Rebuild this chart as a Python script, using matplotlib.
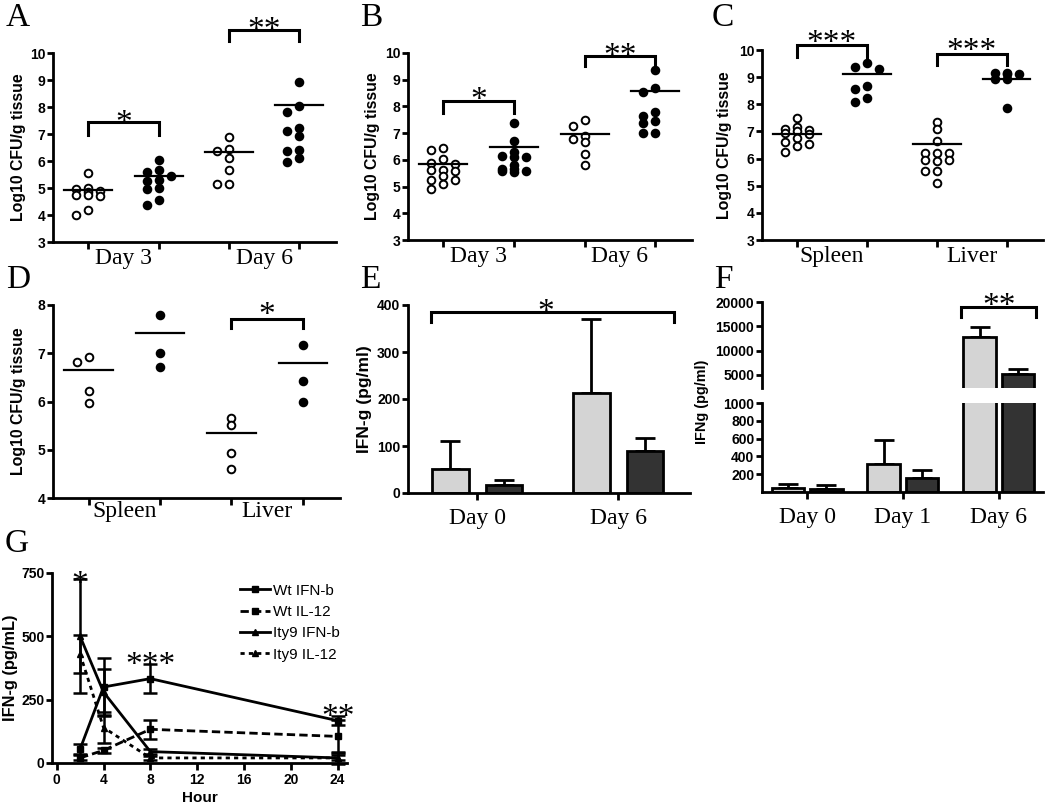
import numpy as np
import matplotlib.pyplot as plt
import matplotlib.transforms as mtransforms
from matplotlib.lines import Line2D

W, H = 1050, 809
SANS = "Liberation Sans"
SERIF = "Liberation Serif"

plt.rcParams["font.family"] = SANS
plt.rcParams["font.weight"] = "bold"

# ---- data ----
# A: log10 CFU/g, open = first group, filled = second group
a_cats = ["Day 3", "Day 6"]
a_open_d3 = [5.57, 5.0, 4.95, 4.9, 4.85, 4.75, 4.7, 4.75, 4.2, 4.0]
a_fill_d3 = [6.05, 5.65, 5.58, 5.45, 5.3, 5.25, 5.0, 4.95, 4.55, 4.38]
a_open_d6 = [6.89, 6.44, 6.36, 6.11, 5.65, 5.15, 5.15]
a_fill_d6 = [8.91, 8.02, 7.81, 7.22, 7.1, 6.91, 6.42, 6.36, 6.11, 5.95]
a_means = [4.93, 5.45, 6.32, 8.06]

b_cats = ["Day 3", "Day 6"]
b_open_d3 = [6.46, 6.38, 6.02, 5.88, 5.84, 5.63, 5.63, 5.6, 5.38, 5.25, 5.25, 5.09, 4.9]
b_fill_d3 = [7.38, 6.69, 6.31, 6.15, 6.1, 6.1, 5.8, 5.65, 5.6, 5.55, 5.6, 5.65]
b_open_d6 = [7.48, 7.28, 6.9, 6.78, 6.65, 6.23, 5.79]
b_fill_d6 = [9.38, 8.69, 8.54, 7.78, 7.65, 7.46, 7.38, 7.0, 7.0]
b_means = [5.84, 6.48, 6.98, 8.56]

c_cats = ["Spleen", "Liver"]
c_open_sp = [7.5, 7.15, 7.1, 7.05, 7.0, 6.95, 6.9, 6.75, 6.6, 6.55, 6.45, 6.25]
c_fill_sp = [9.51, 9.38, 9.3, 8.67, 8.58, 8.25, 8.09]
c_open_lv = [7.35, 7.1, 6.65, 6.2, 6.2, 6.2, 5.9, 5.95, 5.95, 5.55, 5.55, 5.1]
c_fill_lv = [9.15, 9.15, 9.1, 9.1, 8.95, 8.95, 7.85]
c_means = [6.92, 9.1, 6.55, 8.95]

d_cats = ["Spleen", "Liver"]
d_open_sp = [6.93, 6.82, 6.22, 5.96]
d_fill_sp = [7.79, 7.01, 6.72]
d_open_lv = [5.66, 5.51, 4.93, 4.6]
d_fill_lv = [7.17, 6.42, 5.98]
d_means = [6.65, 7.43, 5.35, 6.79]

# E: IFN-g (pg/ml), light and dark bars
e_days = ["Day 0", "Day 6"]
e_light = [51, 212]
e_light_err = [60, 158]
e_dark = [18, 89]
e_dark_err = [9, 27]

# F: IFNg (pg/ml), broken axis
f_days = ["Day 0", "Day 1", "Day 6"]
f_light = [49, 320, 12800]
f_light_err = [45, 265, 2050]
f_dark = [38, 162, 5185]
f_dark_err = [37, 83, 1000]

# G: IFN-g time course
g_hours = [2, 4, 8, 24]
g_wt_ifnb = [55, 300, 333, 167]
g_wt_ifnb_err = [20, 115, 58, 18]
g_wt_il12 = [20, 50, 133, 105]
g_wt_il12_err = [10, 10, 38, 65]
g_ity_ifnb = [500, 280, 45, 20]
g_ity_ifnb_err = [225, 90, 10, 25]
g_ity_il12 = [430, 140, 20, 20]
g_ity_il12_err = [75, 60, 8, 10]

fig = plt.figure(figsize=(W / 100, H / 100), dpi=100)


def px_axes(x0, y0, x1, y1):
    return fig.add_axes([x0 / W, 1 - y1 / H, (x1 - x0) / W, (y1 - y0) / H])


def style(ax):
    for s in ["top", "right"]:
        ax.spines[s].set_visible(False)
    for s in ["left", "bottom"]:
        ax.spines[s].set_linewidth(2)
    ax.tick_params(width=2, length=4, labelsize=10, pad=1.5)


def ylabel_at(ax, text, x_right, size=11.4):
    ax.set_ylabel(text, fontsize=size, fontweight="bold")
    tr = mtransforms.blended_transform_factory(fig.transFigure, ax.transAxes)
    ax.yaxis.set_label_coords(x_right / W, 0.5, transform=tr)


def stars(ax, x, y, n, fs=24):
    ax.annotate("*" * n, (x, y), xytext=(0, -0.55 * fs), textcoords="offset points",
                ha="center", va="baseline", fontsize=fs, family=SERIF,
                fontweight="normal", annotation_clip=False)


def bracket(ax, x0, x1, ytop, ybot):
    ax.plot([x0, x0, x1, x1], [ybot, ytop, ytop, ybot], color="black", lw=2.2,
            clip_on=False, solid_joinstyle="miter")


def swarm(vals, dy, dx):
    # spread points of similar value over up to three columns
    placed = []
    offs = []
    for v in vals:
        best, best_gap = 0, -1
        for c in [0, -1, 1]:
            gaps = [abs(v - pv) for pv, pc in placed if pc == c]
            gap = min(gaps) if gaps else 99
            if gap >= dy:
                best = c
                break
            if gap > best_gap:
                best, best_gap = c, gap
        placed.append((v, best))
        offs.append(best * dx)
    return np.array(offs)


def scatter_panel(ax, groups, means, cats, dy, ylim):
    for i, vals in enumerate(groups):
        offs = swarm(vals, dy, 0.17)
        filled = i % 2 == 1
        ax.plot(i + offs, vals, "o", ms=5.5, mfc="black" if filled else "white",
                mec="black", mew=1.4, ls="none", clip_on=False)
        ax.plot([i - 0.34, i + 0.34], [means[i], means[i]], color="black", lw=1.6)
    style(ax)
    ax.set_xlim(-0.5, 3.52)
    ax.set_ylim(*ylim)
    ax.set_yticks(np.arange(ylim[0], ylim[1] + 1))
    ax.set_xticks([0, 1, 2, 3])
    ax.tick_params(axis="x", which="major", labelbottom=False, length=5)
    ax.set_xticks([0.5, 2.5], labels=cats, minor=True)
    ax.tick_params(axis="x", which="minor", length=0, pad=4, labelsize=17)
    for lbl in ax.get_xticklabels(minor=True):
        lbl.set_family(SERIF)
        lbl.set_fontweight("normal")


def panel_letter(x, y, s):
    fig.text(x / W, 1 - y / H, s, family=SERIF, fontsize=24, fontweight="normal",
             ha="left", va="top")


# ---- A ----
axA = px_axes(53, 53, 336, 242)
scatter_panel(axA, [a_open_d3, a_fill_d3, a_open_d6, a_fill_d6], a_means, a_cats, 0.22, (3, 10))
ylabel_at(axA, "Log10 CFU/g tissue", 26)
bracket(axA, 0, 1, 7.43, 6.98)
stars(axA, 0.5, 7.75, 1)
bracket(axA, 2, 3, 10.86, 10.43)
stars(axA, 2.5, 11.2, 2)
panel_letter(6, 2, "A")

# ---- B ----
axB = px_axes(408, 53, 692, 240)
scatter_panel(axB, [b_open_d3, b_fill_d3, b_open_d6, b_fill_d6], b_means, b_cats, 0.22, (3, 10))
ylabel_at(axB, "Log10 CFU/g tissue", 380)
bracket(axB, 0, 1, 8.19, 7.75)
stars(axB, 0.5, 8.6, 1)
bracket(axB, 2, 3, 9.88, 9.5)
stars(axB, 2.5, 10.25, 2)
panel_letter(360, 2, "B")

# ---- C ----
axC = px_axes(762, 50, 1043, 240)
scatter_panel(axC, [c_open_sp, c_fill_sp, c_open_lv, c_fill_lv], c_means, c_cats, 0.22, (3, 10))
ylabel_at(axC, "Log10 CFU/g tissue", 732)
bracket(axC, 0, 1, 10.18, 9.75)
stars(axC, 0.5, 10.6, 3)
bracket(axC, 2, 3, 9.85, 9.45)
stars(axC, 2.5, 10.3, 3)
panel_letter(712, 2, "C")

# ---- D ----
axD = px_axes(53, 305, 340, 498)
scatter_panel(axD, [d_open_sp, d_fill_sp, d_open_lv, d_fill_lv], d_means, d_cats, 0.15, (4, 8))
axD.tick_params(axis="x", which="minor", pad=2)
ylabel_at(axD, "Log10 CFU/g tissue", 26)
bracket(axD, 2, 3, 7.72, 7.52)
stars(axD, 2.5, 7.98, 1)
panel_letter(6, 264, "D")

# ---- E ----
axE = px_axes(408, 305, 690, 493)
xe = np.arange(len(e_days))
bw = 0.26
axE.bar(xe - 0.19, e_light, bw, color="#d4d4d4", edgecolor="black", lw=2, zorder=2)
axE.bar(xe + 0.19, e_dark, bw, color="#333333", edgecolor="black", lw=2, zorder=2)
axE.errorbar(xe - 0.19, e_light, yerr=[np.zeros(2), e_light_err], fmt="none",
             ecolor="black", elinewidth=2, capsize=7, capthick=2, zorder=1)
axE.errorbar(xe + 0.19, e_dark, yerr=[np.zeros(2), e_dark_err], fmt="none",
             ecolor="black", elinewidth=2, capsize=7, capthick=2, zorder=1)
style(axE)
axE.set_xlim(-0.49, 1.51)
axE.set_ylim(0, 400)
axE.set_yticks([0, 100, 200, 300, 400])
axE.set_xticks(xe, labels=e_days)
axE.tick_params(axis="x", length=5, pad=6, labelsize=17)
for lbl in axE.get_xticklabels():
    lbl.set_family(SERIF)
    lbl.set_fontweight("normal")
ylabel_at(axE, "IFN-g (pg/ml)", 372, size=12.5)
bracket(axE, -0.33, 1.40, 385, 363)
stars(axE, 0.49, 406, 1)
panel_letter(360, 264, "E")

# ---- F (broken axis) ----
axFt = px_axes(762, 302, 1043, 388)
axFb = px_axes(762, 403, 1043, 492)
xf = np.arange(len(f_days))
bw = 0.34
for ax in (axFt, axFb):
    ax.bar(xf - 0.2, f_light, bw, color="#d4d4d4", edgecolor="black", lw=2, zorder=2)
    ax.bar(xf + 0.2, f_dark, bw, color="#333333", edgecolor="black", lw=2, zorder=2)
    ax.errorbar(xf - 0.2, f_light, yerr=[np.zeros(3), f_light_err], fmt="none",
                ecolor="black", elinewidth=2, capsize=7, capthick=2, zorder=1)
    ax.errorbar(xf + 0.2, f_dark, yerr=[np.zeros(3), f_dark_err], fmt="none",
                ecolor="black", elinewidth=2, capsize=7, capthick=2, zorder=1)
    style(ax)
    ax.set_xlim(-0.47, 2.46)
axFt.set_ylim(2275, 20000)
axFt.set_yticks([5000, 10000, 15000, 20000])
axFt.spines["bottom"].set_visible(False)
axFt.tick_params(axis="x", bottom=False, labelbottom=False)
axFb.set_ylim(0, 1000)
axFb.set_yticks([200, 400, 600, 800, 1000])
axFb.set_xticks(xf, labels=f_days)
axFb.tick_params(axis="x", length=5, pad=6, labelsize=17)
for lbl in axFb.get_xticklabels():
    lbl.set_family(SERIF)
    lbl.set_fontweight("normal")
fig.text(709 / W, 1 - 402 / H, "IFNg (pg/ml)", rotation=90, ha="right", va="center",
         fontsize=10.4, fontweight="bold")
bracket(axFt, 1.61, 2.39, 19000, 16900)
stars(axFt, 2.0, 21000, 2)
panel_letter(714, 264, "F")

# ---- G ----
axG = px_axes(52, 573, 347, 763)
series = [
    (g_wt_ifnb, g_wt_ifnb_err, "s", "-", "Wt IFN-b"),
    (g_wt_il12, g_wt_il12_err, "s", (0, (3, 1.5)), "Wt IL-12"),
    (g_ity_ifnb, g_ity_ifnb_err, "^", "-", "Ity9 IFN-b"),
    (g_ity_il12, g_ity_il12_err, "^", (0, (1.5, 1.5)), "Ity9 IL-12"),
]
handles = []
for vals, err, mk, ls, lab in series:
    axG.errorbar(g_hours, vals, yerr=err, marker=mk, ms=5, ls=ls, lw=2,
                 color="black", ecolor="black", elinewidth=1.8, capsize=5,
                 capthick=1.8, clip_on=False)
    handles.append(Line2D([], [], color="black", marker=mk, ms=5, ls=ls, lw=2, label=lab))
style(axG)
axG.set_xlim(-0.4, 24.8)
axG.set_ylim(0, 750)
axG.set_yticks([0, 250, 500, 750])
axG.set_xticks([0, 4, 8, 12, 16, 20, 24])
axG.tick_params(axis="x", length=5, pad=2)
axG.set_xlabel("Hour", fontsize=11, fontweight="bold", labelpad=3)
ylabel_at(axG, "IFN-g (pg/mL)", 18, size=11.8)
leg = axG.legend(handles=handles, loc="upper left", bbox_to_anchor=(0.6, 1.0),
                 frameon=False, fontsize=11, handlelength=2.0, handletextpad=0.15,
                 labelspacing=0.48, borderpad=0.2)
for t in leg.get_texts():
    t.set_fontweight("normal")
stars(axG, 2, 743, 1)
stars(axG, 8, 424, 3)
stars(axG, 24, 217, 2)
panel_letter(5, 528, "G")

fig.savefig("out.png", dpi=100)
